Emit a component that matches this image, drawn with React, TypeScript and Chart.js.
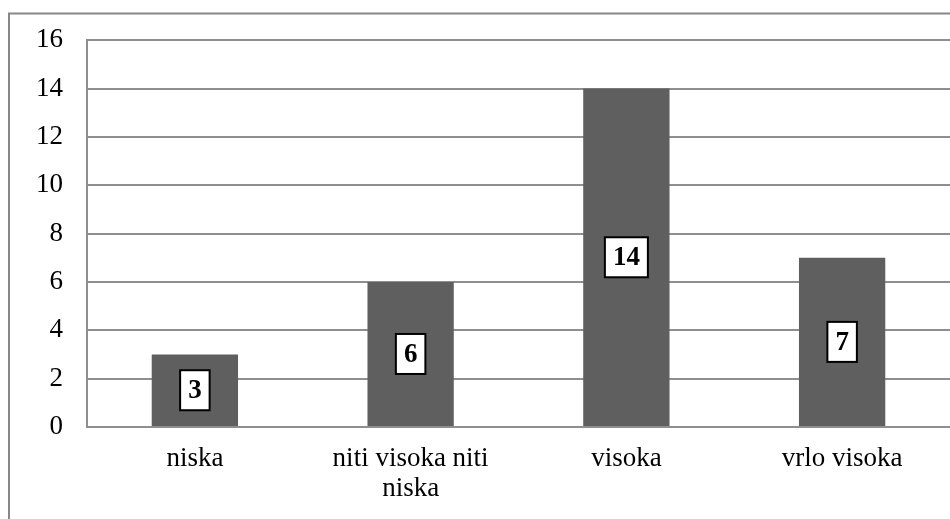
import React, { useEffect, useRef } from "react";
import { Chart, registerables } from "chart.js";

Chart.register(...registerables);

const categories: (string | string[])[] = ["niska", ["niti visoka niti", "niska"], "visoka", "vrlo visoka"];
const values: number[] = [3, 6, 14, 7];
const yMin = 0;
const yMax = 16;
const yStep = 2;

const FONT = '"Liberation Serif", "Times New Roman", serif';
const GRID = "#8f8f8f";

const frame = {
  id: "frame",
  beforeDraw(chart: any) {
    const ctx = chart.ctx;
    ctx.save();
    ctx.fillStyle = "#ffffff";
    ctx.fillRect(0, 0, chart.width, chart.height);
    ctx.strokeStyle = "#878787";
    ctx.lineWidth = 2;
    ctx.strokeRect(9, 13.5, chart.width + 20, chart.height + 20);
    ctx.restore();
  },
};

const boxLabels = {
  id: "boxLabels",
  afterDatasetsDraw(chart: any) {
    const ctx = chart.ctx;
    const meta = chart.getDatasetMeta(0);
    ctx.save();
    ctx.font = `bold 27px ${FONT}`;
    ctx.textAlign = "center";
    ctx.textBaseline = "middle";
    meta.data.forEach((el: any, i: number) => {
      const txt = String(values[i]);
      const tw = ctx.measureText(txt).width;
      const w = tw + 16;
      const h = 40;
      const cx = el.x;
      const cy = (el.y + el.base) / 2;
      ctx.fillStyle = "#ffffff";
      ctx.fillRect(cx - w / 2, cy - h / 2, w, h);
      ctx.strokeStyle = "#000000";
      ctx.lineWidth = 2;
      ctx.strokeRect(cx - w / 2, cy - h / 2, w, h);
      ctx.fillStyle = "#000000";
      ctx.fillText(txt, cx, cy + 1);
    });
    ctx.restore();
  },
};

export default function App() {
  const ref = useRef<HTMLCanvasElement | null>(null);
  useEffect(() => {
    if (!ref.current) return;
    const chart = new Chart(ref.current, {
      type: "bar",
      data: {
        labels: categories as any,
        datasets: [
          {
            data: values,
            backgroundColor: "#5f5f5f",
            borderWidth: 0,
            categoryPercentage: 1,
            barPercentage: 0.4,
          },
        ],
      },
      options: {
        animation: false,
        responsive: false,
        devicePixelRatio: 1,
        layout: { padding: { top: 40, left: 0, right: 0, bottom: 0 } },
        plugins: { legend: { display: false }, tooltip: { enabled: false } },
        scales: {
          x: {
            grid: { display: false, drawTicks: false },
            border: { display: true, color: GRID, width: 2 },
            ticks: {
              color: "#000000",
              font: { family: FONT, size: 27, lineHeight: 1.1 },
              padding: 17,
              maxRotation: 0,
              autoSkip: false,
            },
            afterFit(scale: any) {
              scale.height = 92;
            },
          },
          y: {
            min: yMin,
            max: yMax,
            grid: { color: GRID, lineWidth: 2, drawTicks: false },
            border: { display: true, color: GRID, width: 2 },
            ticks: {
              stepSize: yStep,
              color: "#000000",
              font: { family: FONT, size: 27 },
              padding: 24,
            },
            afterFit(scale: any) {
              scale.width = 87;
            },
          },
        },
      },
      plugins: [frame, boxLabels],
    });
    return () => chart.destroy();
  }, []);
  return (
    <div style={{ position: "fixed", left: 0, top: 0, width: 950, height: 519 }}>
      <canvas ref={ref} width={950} height={519} style={{ display: "block" }} />
    </div>
  );
}
